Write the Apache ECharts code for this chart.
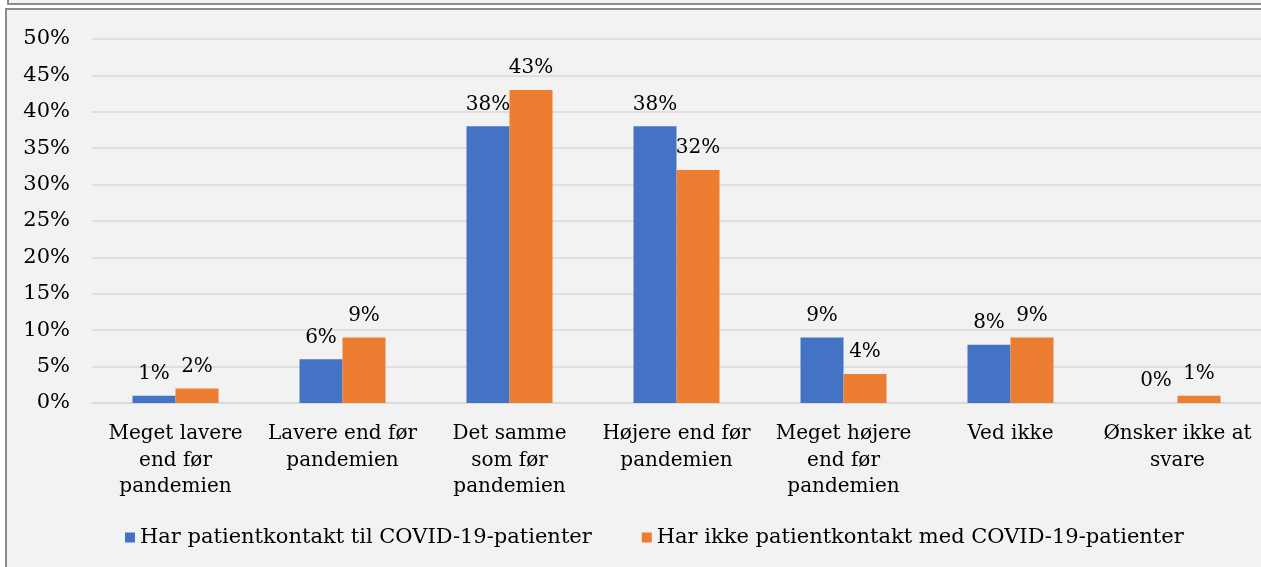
<!DOCTYPE html>
<html>
<head>
<meta charset="utf-8">
<script src="https://cdn.jsdelivr.net/npm/echarts@6/dist/echarts.min.js"></script>
<style>
  html, body { margin: 0; padding: 0; background: #fff; }
  #chart { width: 1261px; height: 567px; }
</style>
</head>
<body>
<div id="chart"></div>
<script>
const categories = [
  'Meget lavere\nend før\npandemien',
  'Lavere end før\npandemien',
  'Det samme\nsom før\npandemien',
  'Højere end før\npandemien',
  'Meget højere\nend før\npandemien',
  'Ved ikke',
  'Ønsker ikke at\nsvare'
]
const seriesNames = [
  'Har patientkontakt til COVID-19-patienter',
  'Har ikke patientkontakt med COVID-19-patienter'
]
const withContact = [1, 6, 38, 38, 9, 8, 0]
const withoutContact = [2, 9, 43, 32, 4, 9, 1]

const font = 'DejaVu Serif'
const chart = echarts.init(document.getElementById('chart'))

const label = {
  show: true,
  position: 'top',
  distance: 12,
  formatter: '{c}%',
  color: '#000',
  fontFamily: font,
  fontSize: 20
}

chart.setOption({
  backgroundColor: '#fff',
  animation: false,
  graphic: [
    {
      type: 'rect',
      shape: { x: 8, y: -10, width: 1270, height: 14 },
      style: { fill: '#f2f2f2', stroke: '#8c8c8c', lineWidth: 2 },
      z: -10
    },
    {
      type: 'rect',
      shape: { x: 6, y: 9, width: 1270, height: 580 },
      style: { fill: '#f2f2f2', stroke: '#8c8c8c', lineWidth: 2 },
      z: -10
    }
  ],
  grid: { left: 92, right: 0, top: 39, bottom: 164, containLabel: false },
  legend: {
    bottom: 14,
    left: 120,
    itemWidth: 10,
    itemHeight: 10,
    itemGap: 50,
    icon: 'rect',
    textStyle: { fontFamily: font, fontSize: 21, color: '#000' },
    data: seriesNames
  },
  xAxis: {
    type: 'category',
    data: categories,
    axisLine: { show: true, lineStyle: { color: '#d9d9d9', width: 1.5 } },
    axisTick: { show: false },
    axisLabel: {
      interval: 0,
      margin: 18,
      color: '#000',
      fontFamily: font,
      fontSize: 20,
      lineHeight: 26.5,
      align: 'center'
    }
  },
  yAxis: {
    type: 'value',
    min: 0,
    max: 50,
    interval: 5,
    axisLine: { show: false },
    axisTick: { show: false },
    splitLine: { lineStyle: { color: '#d9d9d9', width: 1.5 } },
    axisLabel: {
      formatter: '{value}%',
      margin: 22,
      color: '#000',
      fontFamily: font,
      fontSize: 21
    }
  },
  series: [
    {
      name: seriesNames[0],
      type: 'bar',
      data: withContact,
      barWidth: 43,
      barGap: '0%',
      itemStyle: { color: '#4472c4' },
      label
    },
    {
      name: seriesNames[1],
      type: 'bar',
      data: withoutContact,
      barWidth: 43,
      barGap: '0%',
      itemStyle: { color: '#ed7d31' },
      label
    }
  ]
})
</script>
</body>
</html>
